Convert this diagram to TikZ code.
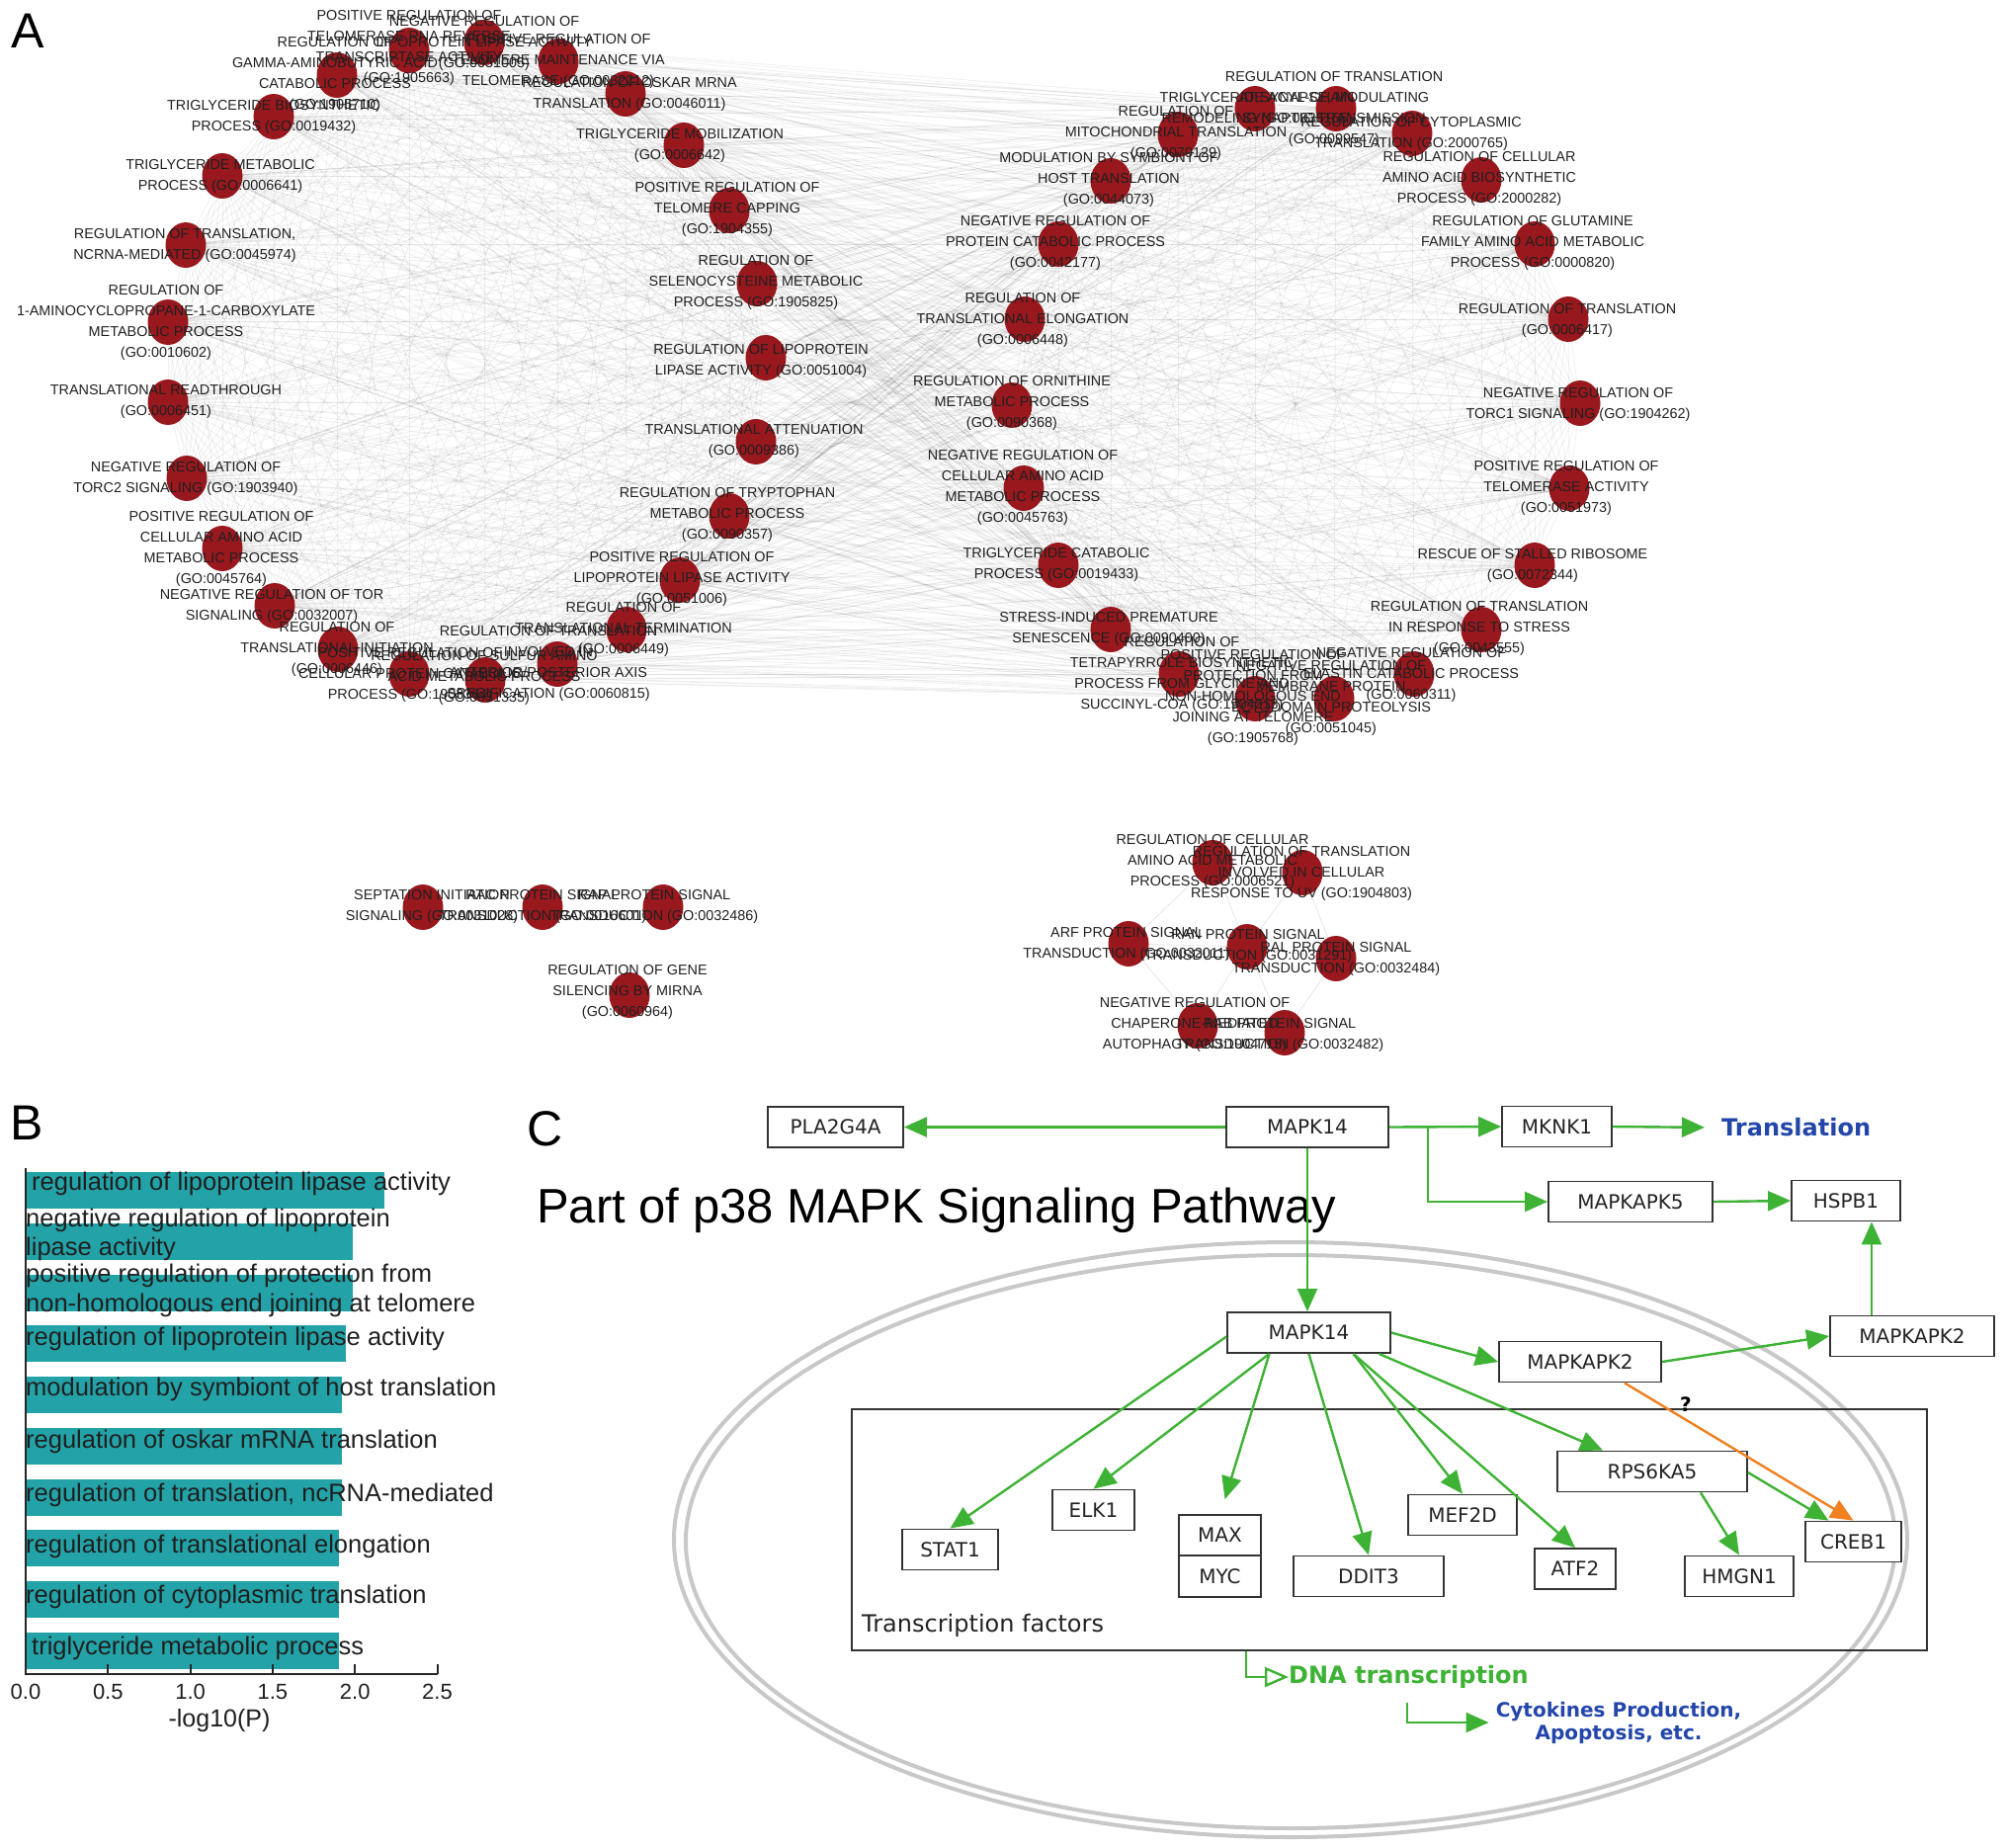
\documentclass[tikz,border=0pt]{standalone}
\usepackage{fontspec}
\setmainfont{Liberation Sans}
\newfontfamily\dejavu{DejaVu Sans}
\usetikzlibrary{arrows.meta,calc,shapes.geometric}
\pgfdeclarelayer{background}
\pgfsetlayers{background,main}
\definecolor{nodered}{RGB}{152,24,30}
\definecolor{labgray}{RGB}{32,32,32}
\definecolor{tealbar}{RGB}{35,163,168}
\definecolor{pgreen}{RGB}{62,178,52}
\definecolor{porange}{RGB}{240,128,32}
\definecolor{pblue}{RGB}{35,70,170}
\definecolor{boxtext}{RGB}{35,35,35}
\definecolor{ellgray}{RGB}{200,200,200}
\tikzset{
  panl/.style={font=\fontsize{50}{56}\selectfont, inner sep=0pt},
  gonode/.style={ellipse, fill=nodered, minimum width=41pt, minimum height=46pt, inner sep=0pt},
  golab/.style={align=center, text=labgray, font=\fontsize{14.4}{21}\selectfont, inner sep=0pt},
  goedge/.style={draw=black, opacity=0.06, line width=0.8pt},
  lcedge/.style={draw=black, opacity=0.10, line width=0.8pt},
  blab/.style={anchor=west, inner sep=0pt, text=black!88, font=\fontsize{25.5}{28}\selectfont},
  tlab/.style={inner sep=0pt, text=black!88, font=\fontsize{22}{26}\selectfont},
  pbox/.style={draw=black!80, line width=1.8pt, fill=white, minimum height=41pt, inner sep=0pt,
               text=boxtext, font=\dejavu\fontsize{20}{24}\selectfont},
  garrow/.style={draw=pgreen, line width=2.4pt, -{Triangle[length=23pt,width=20pt]}},
  oarrow/.style={draw=porange, line width=2.4pt, -{Triangle[length=23pt,width=20pt]}},
  openarrow/.style={draw=pgreen, line width=2.4pt, -{Triangle[open,length=24pt,width=20pt]}}
}
\begin{document}
\begin{tikzpicture}[x=1pt,y=-1pt]
\useasboundingbox (0,0) rectangle (2031,1870);
\begin{pgfonlayer}{background}
\fill[white] (0,0) rectangle (2031,1870);
\end{pgfonlayer}

% ---------------- Panel letters
\node[panl] (pA) at (28,31) {A};
\node[panl] (pB) at (27,1136) {B};
\node[panl] (pC) at (552,1142) {C};

% ---------------- Panel A : main network
\foreach \px/\py [count=\i] in {341/76,414/51,490/43,565/62,633/95,692/147,738/213,766/287,775/362,765/447,738/522,688/587,634/637,564/672,491/688,414/682,342/657,278/613,225/555,189/484,170/407,170/326,188/248,225/178,277/118,1192/136,1270/110,1352/110,1429/135,1499/182,1553/247,1587/323,1599/408,1588/494,1553/572,1499/637,1431/682,1350/707,1270/707,1193/682,1124/637,1071/572,1036/494,1024/410,1037/323,1071/247,1124/183}
  \node[gonode] (a\i) at (\px,\py) {};

\begin{pgfonlayer}{background}
\foreach \i in {1,...,46}{
  \pgfmathtruncatemacro{\jstartA}{\i+1}
  \foreach \j in {\jstartA,...,47}{\draw[goedge] (a\i.center) -- (a\j.center);}
}
\end{pgfonlayer}

% left cluster labels
\node[golab] (la1) at (339,75) {REGULATION OF\\GAMMA-AMINOBUTYRIC ACID\\CATABOLIC PROCESS\\(GO:1905710)};
\node[golab] (la2) at (414,48) {POSITIVE REGULATION OF\\TELOMERASE RNA REVERSE\\TRANSCRIPTASE ACTIVITY\\(GO:1905663)};
\node[golab] (la3) at (490,44) {NEGATIVE REGULATION OF\\LIPOPROTEIN LIPASE ACTIVITY\\(GO:0051005)};
\node[golab] (la4) at (565,62) {POSITIVE REGULATION OF\\TELOMERE MAINTENANCE VIA\\TELOMERASE (GO:0032212)};
\node[golab] (la5) at (637,95) {REGULATION OF OSKAR MRNA\\TRANSLATION (GO:0046011)};
\node[golab] (la6) at (688,147) {TRIGLYCERIDE MOBILIZATION\\(GO:0006642)};
\node[golab] (la7) at (736,212) {POSITIVE REGULATION OF\\TELOMERE CAPPING\\(GO:1904355)};
\node[golab] (la8) at (765,286) {REGULATION OF\\SELENOCYSTEINE METABOLIC\\PROCESS (GO:1905825)};
\node[golab] (la9) at (770,365) {REGULATION OF LIPOPROTEIN\\LIPASE ACTIVITY (GO:0051004)};
\node[golab] (la10) at (763,446) {TRANSLATIONAL ATTENUATION\\(GO:0009386)};
\node[golab] (la11) at (736,521) {REGULATION OF TRYPTOPHAN\\METABOLIC PROCESS\\(GO:0090357)};
\node[golab] (la12) at (690,586) {POSITIVE REGULATION OF\\LIPOPROTEIN LIPASE ACTIVITY\\(GO:0051006)};
\node[golab] (la13) at (631,637) {REGULATION OF\\TRANSLATIONAL TERMINATION\\(GO:0006449)};
\node[golab] (la14) at (555,671) {REGULATION OF TRANSLATION\\INVOLVED IN\\ANTERIOR/POSTERIOR AXIS\\SPECIFICATION (GO:0060815)};
\node[golab] (la15) at (490,686) {REGULATION OF SULFUR AMINO\\ACID METABOLIC PROCESS\\(GO:0031335)};
\node[golab] (la16) at (415,683) {POSITIVE REGULATION OF\\CELLULAR PROTEIN CATABOLIC\\PROCESS (GO:1903364)};
\node[golab] (la17) at (341,657) {REGULATION OF\\TRANSLATIONAL INITIATION\\(GO:0006446)};
\node[golab] (la18) at (275,613) {NEGATIVE REGULATION OF TOR\\SIGNALING (GO:0032007)};
\node[golab] (la19) at (224,555) {POSITIVE REGULATION OF\\CELLULAR AMINO ACID\\METABOLIC PROCESS\\(GO:0045764)};
\node[golab] (la20) at (188,484) {NEGATIVE REGULATION OF\\TORC2 SIGNALING (GO:1903940)};
\node[golab] (la21) at (168,406) {TRANSLATIONAL READTHROUGH\\(GO:0006451)};
\node[golab] (la22) at (168,326) {REGULATION OF\\1-AMINOCYCLOPROPANE-1-CARBOXYLATE\\METABOLIC PROCESS\\(GO:0010602)};
\node[golab] (la23) at (187,248) {REGULATION OF TRANSLATION,\\NCRNA-MEDIATED (GO:0045974)};
\node[golab] (la24) at (223,178) {TRIGLYCERIDE METABOLIC\\PROCESS (GO:0006641)};
\node[golab] (la25) at (277,118) {TRIGLYCERIDE BIOSYNTHETIC\\PROCESS (GO:0019432)};
% right cluster labels
\node[golab] (ra1) at (1190,135) {REGULATION OF\\MITOCHONDRIAL TRANSLATION\\(GO:0070129)};
\node[golab] (ra2) at (1272,110) {TRIGLYCERIDE ACYL-CHAIN\\REMODELING (GO:0036155)};
\node[golab] (ra3) at (1350,110) {REGULATION OF TRANSLATION\\AT SYNAPSE, MODULATING\\SYNAPTIC TRANSMISSION\\(GO:0099547)};
\node[golab] (ra4) at (1428,135) {REGULATION OF CYTOPLASMIC\\TRANSLATION (GO:2000765)};
\node[golab] (ra5) at (1497,181) {REGULATION OF CELLULAR\\AMINO ACID BIOSYNTHETIC\\PROCESS (GO:2000282)};
\node[golab] (ra6) at (1551,246) {REGULATION OF GLUTAMINE\\FAMILY AMINO ACID METABOLIC\\PROCESS (GO:0000820)};
\node[golab] (ra7) at (1586,324) {REGULATION OF TRANSLATION\\(GO:0006417)};
\node[golab] (ra8) at (1597,409) {NEGATIVE REGULATION OF\\TORC1 SIGNALING (GO:1904262)};
\node[golab] (ra9) at (1585,494) {POSITIVE REGULATION OF\\TELOMERASE ACTIVITY\\(GO:0051973)};
\node[golab] (ra10) at (1551,572) {RESCUE OF STALLED RIBOSOME\\(GO:0072344)};
\node[golab] (ra11) at (1497,636) {REGULATION OF TRANSLATION\\IN RESPONSE TO STRESS\\(GO:0043555)};
\node[golab] (ra12) at (1428,683) {NEGATIVE REGULATION OF\\ELASTIN CATABOLIC PROCESS\\(GO:0060311)};
\node[golab] (ra13) at (1347,706) {NEGATIVE REGULATION OF\\MEMBRANE PROTEIN\\ECTODOMAIN PROTEOLYSIS\\(GO:0051045)};
\node[golab] (ra14) at (1268,706) {POSITIVE REGULATION OF\\PROTECTION FROM\\NON-HOMOLOGOUS END\\JOINING AT TELOMERE\\(GO:1905768)};
\node[golab] (ra15) at (1196,682) {REGULATION OF\\TETRAPYRROLE BIOSYNTHETIC\\PROCESS FROM GLYCINE AND\\SUCCINYL-COA (GO:1904213)};
\node[golab] (ra16) at (1122,636) {STRESS-INDUCED PREMATURE\\SENESCENCE (GO:0090400)};
\node[golab] (ra17) at (1069,571) {TRIGLYCERIDE CATABOLIC\\PROCESS (GO:0019433)};
\node[golab] (ra18) at (1035,493) {NEGATIVE REGULATION OF\\CELLULAR AMINO ACID\\METABOLIC PROCESS\\(GO:0045763)};
\node[golab] (ra19) at (1024,408) {REGULATION OF ORNITHINE\\METABOLIC PROCESS\\(GO:0090368)};
\node[golab] (ra20) at (1035,324) {REGULATION OF\\TRANSLATIONAL ELONGATION\\(GO:0006448)};
\node[golab] (ra21) at (1068,246) {NEGATIVE REGULATION OF\\PROTEIN CATABOLIC PROCESS\\(GO:0042177)};
\node[golab] (ra22) at (1122,182) {MODULATION BY SYMBIONT OF\\HOST TRANSLATION\\(GO:0044073)};

% lower-left cluster
\foreach \px/\py [count=\i] in {428/918,549/918,671/918,637/1007}
  \node[gonode] (b\i) at (\px,\py) {};
\node[golab] (lb1) at (437,917) {SEPTATION INITIATION\\SIGNALING (GO:0031028)};
\node[golab] (lb2) at (549,917) {RAC PROTEIN SIGNAL\\TRANSDUCTION (GO:0016601)};
\node[golab] (lb3) at (662,917) {RAP PROTEIN SIGNAL\\TRANSDUCTION (GO:0032486)};
\node[golab] (lb4) at (635,1004) {REGULATION OF GENE\\SILENCING BY MIRNA\\(GO:0060964)};

% lower-right cluster
\foreach \px/\py [count=\i] in {1227/873,1318/883,1142/955,1262/958,1352/970,1212/1038,1300/1045}
  \node[gonode] (c\i) at (\px,\py) {};
\begin{pgfonlayer}{background}
\foreach \u/\v in {4/1,4/2,4/3,4/5,4/6,4/7,1/3,3/6,6/7,5/7,2/5,1/2}
  \draw[lcedge] (c\u.center) -- (c\v.center);
\end{pgfonlayer}
\node[golab] (lc1) at (1227,872) {REGULATION OF CELLULAR\\AMINO ACID METABOLIC\\PROCESS (GO:0006521)};
\node[golab] (lc2) at (1317,884) {REGULATION OF TRANSLATION\\INVOLVED IN CELLULAR\\RESPONSE TO UV (GO:1904803)};
\node[golab] (lc3) at (1140,955) {ARF PROTEIN SIGNAL\\TRANSDUCTION (GO:0032011)};
\node[golab] (lc4) at (1263,957) {RAN PROTEIN SIGNAL\\TRANSDUCTION (GO:0031291)};
\node[golab] (lc5) at (1352,970) {RAL PROTEIN SIGNAL\\TRANSDUCTION (GO:0032484)};
\node[golab] (lc6) at (1209,1037) {NEGATIVE REGULATION OF\\CHAPERONE-MEDIATED\\AUTOPHAGY (GO:1904715)};
\node[golab] (lc7) at (1295,1047) {RAB PROTEIN SIGNAL\\TRANSDUCTION (GO:0032482)};

% ---------------- Panel B : bar chart
\foreach \yt/\xe in {1186/389,1238/357,1290/357,1341/350,1393/346,1445/346,1497/346,1548/343,1600/343,1652/343}
  \fill[tealbar] (26,\yt) rectangle (\xe,\yt+37);
\draw[black!85, line width=2pt] (26,1182) -- (26,1694) -- (443,1694);
\foreach \tx/\tv [count=\k] in {26/0.0,109.3/0.5,192.6/1.0,275.9/1.5,359.2/2.0,442.5/2.5}{
  \draw[black!85, line width=2pt] (\tx,1694) -- (\tx,1684);
  \node[tlab] (tk\k) at (\tx,1712) {\tv};
}
\node[tlab, font=\fontsize{25}{28}\selectfont] (xl) at (222,1741) {-log10(P)};
\node[blab] (bl1) at (32,1198) {regulation of lipoprotein lipase activity};
\node[blab] (bl2a) at (26,1235) {negative regulation of lipoprotein};
\node[blab] (bl2b) at (26,1264) {lipase activity};
\node[blab] (bl3a) at (26,1291) {positive regulation of protection from};
\node[blab] (bl3b) at (26,1321) {non-homologous end joining at telomere};
\node[blab] (bl4) at (26,1355) {regulation of lipoprotein lipase activity};
\node[blab] (bl5) at (26,1406) {modulation by symbiont of host translation};
\node[blab] (bl6) at (26,1459) {regulation of oskar mRNA translation};
\node[blab] (bl7) at (26,1513) {regulation of translation, ncRNA-mediated};
\node[blab] (bl8) at (26,1565) {regulation of translational elongation};
\node[blab] (bl9) at (26,1616) {regulation of cytoplasmic translation};
\node[blab] (bl10) at (32,1668) {triglyceride metabolic process};

% ---------------- Panel C : pathway
\node[anchor=west, inner sep=0pt, font=\fontsize{49}{56}\selectfont] (title) at (543,1225) {Part of p38 MAPK Signaling Pathway};
\draw[ellgray, line width=4pt] (1306,1558) ellipse [x radius=624pt, y radius=301pt];
\draw[ellgray, line width=4pt] (1306,1560) ellipse [x radius=612pt, y radius=290pt];

\node[draw=black!80, line width=1.8pt, minimum width=1088pt, minimum height=244pt, inner sep=0pt] (tfbox) at (1406,1548) {};
\node[anchor=west, inner sep=0pt, text=boxtext, font=\dejavu\fontsize{24}{28}\selectfont] (tflab) at (872,1645) {Transcription factors};

\node[pbox, minimum width=137pt] (pla) at (845.5,1140.5) {PLA2G4A};
\node[pbox, minimum width=164pt] (mk14a) at (1323,1140.5) {MAPK14};
\node[pbox, minimum width=111pt] (mknk1) at (1575.5,1140) {MKNK1};
\node[pbox, minimum width=166pt] (mk5) at (1650,1216) {MAPKAPK5};
\node[pbox, minimum width=110pt] (hspb1) at (1868,1215) {HSPB1};
\node[pbox, minimum width=166pt] (mk2r) at (1935,1352) {MAPKAPK2};
\node[pbox, minimum width=165pt] (mk14b) at (1324.5,1348.5) {MAPK14};
\node[pbox, minimum width=164pt] (mk2m) at (1599,1378) {MAPKAPK2};
\node[pbox, minimum width=192pt] (rps) at (1672,1489) {RPS6KA5};
\node[pbox, minimum width=110pt] (mef2d) at (1480,1533) {MEF2D};
\node[pbox, minimum width=152pt] (ddit3) at (1385,1595) {DDIT3};
\node[pbox, minimum width=82pt] (atf2) at (1594,1587.5) {ATF2};
\node[pbox, minimum width=110pt] (hmgn1) at (1760,1595) {HMGN1};
\node[pbox, minimum width=97pt] (creb1) at (1875.5,1560) {CREB1};
\node[pbox, minimum width=97pt] (stat1) at (961.5,1568) {STAT1};
\node[pbox, minimum width=83pt] (elk1) at (1106.5,1528) {ELK1};
\node[pbox, minimum width=83pt] (max) at (1234.5,1553.5) {MAX};
\node[pbox, minimum width=83pt, minimum height=42pt] (myc) at (1234.5,1595) {MYC};

\node[anchor=west, inner sep=0pt, text=pblue, font=\dejavu\bfseries\fontsize{24}{28}\selectfont] (transl) at (1742,1141) {Translation};
\node[anchor=west, inner sep=0pt, text=pgreen, font=\dejavu\bfseries\fontsize{24}{28}\selectfont] (dna) at (1304,1697) {DNA transcription};
\node[align=center, inner sep=0pt, text=pblue, font=\dejavu\bfseries\fontsize{20}{23}\selectfont] (cyto) at (1638,1743) {Cytokines Production,\\Apoptosis, etc.};
\node[inner sep=0pt, font=\dejavu\bfseries\fontsize{20}{24}\selectfont] (qm) at (1706,1421) {?};

\coordinate (br) at (1445,1140.5);
\coordinate (xv) at (1894,0);
\coordinate (xd) at (1261,0);
\coordinate (cy0) at (1424,1723);

\draw[garrow] (mk14a.west) -- (pla.east);
\draw[garrow] (mk14a.east) -- (mknk1.west);
\draw[garrow] (br) |- (mk5.west);
\draw[garrow, shorten >=17pt] (mknk1.east) -- (transl.west);
\draw[garrow] (mk5.east) -- (hspb1.west);
\draw[garrow] (mk2r.north -| xv) -- (hspb1.south -| xv);
\draw[garrow] (mk14a.south) -- (mk14a.south |- mk14b.north);
\draw[garrow] (mk14b.east) -- (mk2m.west);
\draw[garrow] (mk2m.east) -- (mk2r.west);
\draw[garrow] ($(mk14b.west)+(0,4)$) -- (stat1.north);
\draw[garrow] ($(mk14b.south)+(-40,0)$) -- (elk1.north);
\draw[garrow] ($(mk14b.south)+(-40,0)$) -- ($(max.north)+(5,-15)$);
\draw[garrow] (mk14b.south) -- (ddit3.north);
\draw[garrow] ($(mk14b.south)+(45,0)$) -- (mef2d.north);
\draw[garrow] ($(mk14b.south)+(45,0)$) -- (atf2.north);
\draw[garrow] ($(mk14b.south)+(71,0)$) -- ($(rps.north)+(-50,0)$);
\draw[garrow] ($(rps.south)+(49,0)$) -- (hmgn1.north);
\draw[garrow] ($(rps.east)+(0,1)$) -- ($(creb1.north)+(-25,0)$);
\draw[oarrow] ($(mk2m.south)+(45,0)$) -- (creb1.north);
\draw[openarrow] (tfbox.south -| xd) |- (dna.west);
\draw[garrow, shorten >=7pt] (cy0) |- (cyto.west);
\end{tikzpicture}
\end{document}
